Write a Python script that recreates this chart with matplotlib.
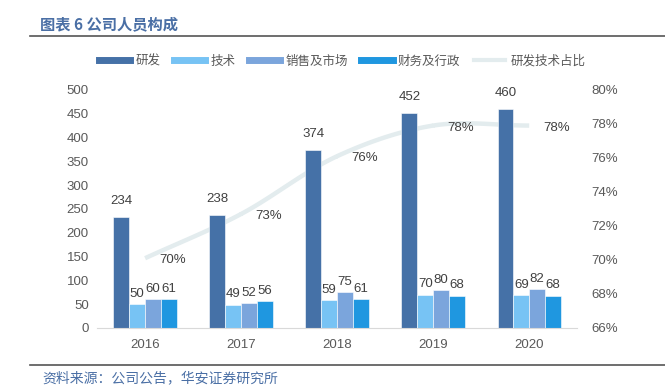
import numpy as np
import matplotlib
matplotlib.use("Agg")
import matplotlib.pyplot as plt
from matplotlib.lines import Line2D

plt.rcParams['font.family'] = ['Liberation Sans', 'Noto Sans CJK SC', 'DejaVu Sans']

years = ["2016", "2017", "2018", "2019", "2020"]
rd = [234, 238, 374, 452, 460]
tech = [50, 49, 59, 70, 69]
sales = [60, 52, 75, 80, 82]
admin = [61, 56, 61, 68, 68]
ratio = [0.701, 0.727, 0.761, 0.779, 0.779]
ratio_labels = ["70%", "73%", "76%", "78%", "78%"]

series = [("研发", rd, "#4571a7"), ("技术", tech, "#77c3f4"),
          ("销售及市场", sales, "#7ba5dc"), ("财务及行政", admin, "#1f97e0")]
line_color = "#e3ecee"

fig = plt.figure(figsize=(6.65, 3.89), dpi=100)
ax = fig.add_axes([0.146, 0.157, 0.722, 0.612])
ax2 = ax.twinx()

x = np.arange(len(years))
bw = 0.165
for i, (name, vals, col) in enumerate(series):
    pos = x + (i - 1.5) * bw
    ax.bar(pos, vals, width=bw, color=col, edgecolor="white", linewidth=0.4, zorder=2)
    for p, v in zip(pos, vals):
        ax.annotate(str(v), (p, v), xytext=(0, 7 if i == 0 else 3), textcoords="offset points",
                    ha="center", va="bottom", fontsize=9.5, color="#404040")

ax.set_ylim(0, 500)
ax.set_yticks(np.arange(0, 501, 50))
ax.set_xlim(-0.5, len(years) - 0.5)
ax.set_xticks(x)
ax.set_xticklabels(years)

# smooth curve (Catmull-Rom through data points)
def catmull(xs, ys, n=30):
    xs = np.asarray(xs, float); ys = np.asarray(ys, float)
    px = np.concatenate([[2 * xs[0] - xs[1]], xs, [2 * xs[-1] - xs[-2]]])
    py = np.concatenate([[2 * ys[0] - ys[1]], ys, [2 * ys[-1] - ys[-2]]])
    ox, oy = [], []
    for k in range(1, len(px) - 2):
        t = np.linspace(0, 1, n)
        for arr, out in ((px, ox), (py, oy)):
            p0, p1, p2, p3 = arr[k - 1], arr[k], arr[k + 1], arr[k + 2]
            out.extend(0.5 * ((2 * p1) + (-p0 + p2) * t + (2 * p0 - 5 * p1 + 4 * p2 - p3) * t ** 2
                              + (-p0 + 3 * p1 - 3 * p2 + p3) * t ** 3))
    return np.array(ox), np.array(oy)

cx, cy = catmull(x, ratio)
ax2.plot(cx, cy, color=line_color, linewidth=3.2, solid_capstyle="butt", zorder=3)
for xi, r, lab in zip(x, ratio, ratio_labels):
    ax2.annotate(lab, (xi, r), xytext=(10, -1.5), textcoords="offset points",
                 ha="left", va="center", fontsize=9.5, color="#404040")
ax2.set_ylim(0.66, 0.80)
ax2.set_yticks(np.arange(0.66, 0.8001, 0.02))
ax2.set_yticklabels([f"{int(round(v*100))}%" for v in np.arange(0.66, 0.8001, 0.02)])
ax.set_zorder(ax2.get_zorder() + 1)
ax.patch.set_visible(False)

for a in (ax, ax2):
    for s in ("top", "left", "right", "bottom"):
        a.spines[s].set_visible(False)
    a.tick_params(length=0, labelsize=9.5, labelcolor="#595959")
ax.spines["bottom"].set_visible(True)
ax.spines["bottom"].set_color("#d9d9d9")
ax.tick_params(axis="x", pad=8)
ax.tick_params(axis="y", pad=6)
ax2.tick_params(axis="y", pad=10)

handles = [Line2D([0], [0], color=c, lw=5) for _, _, c in series] + \
          [Line2D([0], [0], color=line_color, lw=3)]
labels = [s[0] for s in series] + ["研发技术占比"]
fig.legend(handles, labels, loc="center", bbox_to_anchor=(342 / 665, 1 - 61 / 389), ncol=5,
           frameon=False, handlelength=2.5, columnspacing=1.1, handletextpad=0.4,
           labelcolor="#595959", prop={"family": ["Noto Sans CJK SC"], "size": 9})

fig.text(40 / 665, 1 - 24 / 389, "图表 6 公司人员构成", fontsize=11, fontweight="bold",
         color="#4a6fa5", family=["Noto Sans CJK SC"], va="center")
fig.add_artist(Line2D([30 / 665, 1], [1 - 36 / 389] * 2, color="#555555", lw=1.2))
fig.add_artist(Line2D([30 / 665, 1], [1 - 365 / 389] * 2, color="#555555", lw=1.2))
fig.text(42 / 665, 1 - 378 / 389, "资料来源：公司公告，华安证券研究所", fontsize=10,
         color="#4a6fa5", family=["Noto Sans CJK SC"], va="center")

fig.savefig("out.png", dpi=100)
